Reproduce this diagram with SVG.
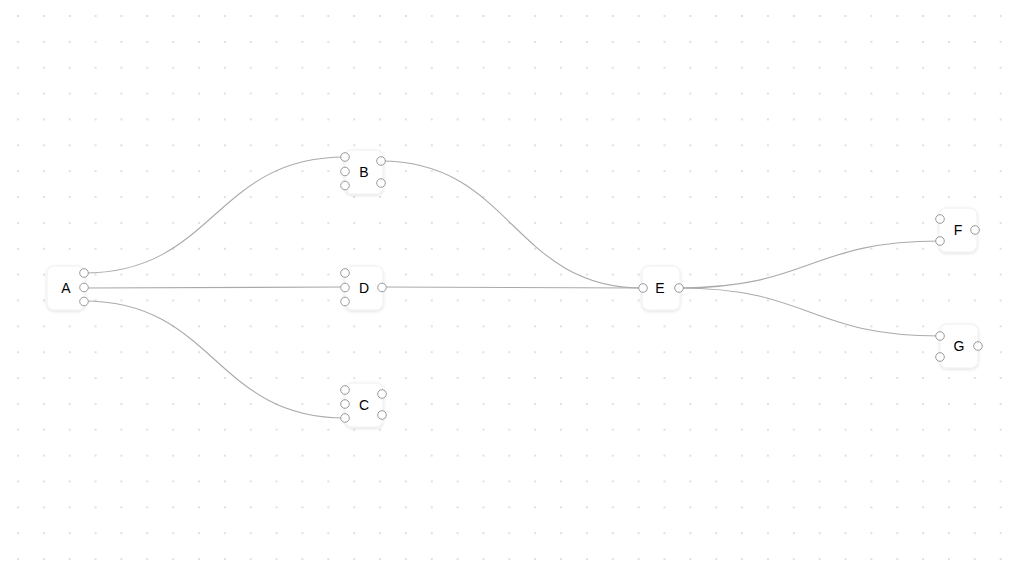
<svg xmlns="http://www.w3.org/2000/svg" width="1024" height="576" viewBox="0 0 1024 576">
<defs>
<pattern id="grid" x="5.07" y="3.07" width="25.86" height="25.86" patternUnits="userSpaceOnUse">
<circle cx="12.93" cy="12.93" r="0.8" fill="#b8b8b8"/>
</pattern>
<filter id="sh" x="-30%" y="-30%" width="160%" height="160%">
<feDropShadow dx="0" dy="1" stdDeviation="1.6" flood-color="#000" flood-opacity="0.13"/>
</filter>
</defs>
<style>
.box{fill:#fff;stroke:#f0f0f0;stroke-width:1;filter:url(#sh)}
.port{fill:#fff;stroke:#999;stroke-width:1}
.lbl{font-family:"Liberation Sans",Arial,sans-serif;font-size:14px;fill:#000;text-anchor:middle;dominant-baseline:central}
.edge{fill:none;stroke:#aaa;stroke-width:1.1}
</style>
<rect width="1024" height="576" fill="#fff"/>
<rect width="1024" height="576" fill="url(#grid)"/>
<g id="connectors">
<path class="edge" d="M84,273 C215,273 214,157 345,157"/>
<path class="edge" d="M84,288 L345,287"/>
<path class="edge" d="M84,301 C215,301 214,418 345,418"/>
<path class="edge" d="M381,161 C512,161 512,288 643,288"/>
<path class="edge" d="M382,287 L643,288"/>
<path class="edge" d="M679,288 C810,288 809,241 940,241"/>
<path class="edge" d="M679,288 C810,288 809,336 940,336"/>
</g>
<g id="node-A">
<rect class="box" x="47" y="266" width="38" height="44" rx="7"/>
<text class="lbl" x="66" y="288">A</text>
<circle class="port" cx="84" cy="273" r="4.3"/>
<circle class="port" cx="84" cy="287.5" r="4.3"/>
<circle class="port" cx="84" cy="301.5" r="4.3"/>
</g>
<g id="node-B">
<rect class="box" x="345" y="150" width="38" height="44" rx="7"/>
<text class="lbl" x="364" y="172">B</text>
<circle class="port" cx="345" cy="157" r="4.3"/>
<circle class="port" cx="345" cy="171.5" r="4.3"/>
<circle class="port" cx="345" cy="185.5" r="4.3"/>
<circle class="port" cx="381" cy="161" r="4.3"/>
<circle class="port" cx="381" cy="183" r="4.3"/>
</g>
<g id="node-D">
<rect class="box" x="345" y="266" width="38" height="44" rx="7"/>
<text class="lbl" x="364" y="288">D</text>
<circle class="port" cx="345" cy="273" r="4.3"/>
<circle class="port" cx="345" cy="287.5" r="4.3"/>
<circle class="port" cx="345" cy="301.5" r="4.3"/>
<circle class="port" cx="382" cy="287.5" r="4.3"/>
</g>
<g id="node-C">
<rect class="box" x="345" y="383" width="38" height="44" rx="7"/>
<text class="lbl" x="364" y="405">C</text>
<circle class="port" cx="345" cy="390" r="4.3"/>
<circle class="port" cx="345" cy="404" r="4.3"/>
<circle class="port" cx="345" cy="418" r="4.3"/>
<circle class="port" cx="382" cy="394" r="4.3"/>
<circle class="port" cx="382" cy="415" r="4.3"/>
</g>
<g id="node-E">
<rect class="box" x="642" y="266" width="38" height="44" rx="7"/>
<text class="lbl" x="660" y="288">E</text>
<circle class="port" cx="643" cy="288" r="4.3"/>
<circle class="port" cx="679" cy="288" r="4.3"/>
</g>
<g id="node-F">
<rect class="box" x="939" y="208" width="38" height="44" rx="7"/>
<text class="lbl" x="958" y="230">F</text>
<circle class="port" cx="940" cy="219" r="4.3"/>
<circle class="port" cx="940" cy="241" r="4.3"/>
<circle class="port" cx="975" cy="230" r="4.3"/>
</g>
<g id="node-G">
<rect class="box" x="940" y="324" width="38" height="44" rx="7"/>
<text class="lbl" x="959" y="346">G</text>
<circle class="port" cx="940" cy="336" r="4.3"/>
<circle class="port" cx="940" cy="357" r="4.3"/>
<circle class="port" cx="978" cy="346" r="4.3"/>
</g>
</svg>
